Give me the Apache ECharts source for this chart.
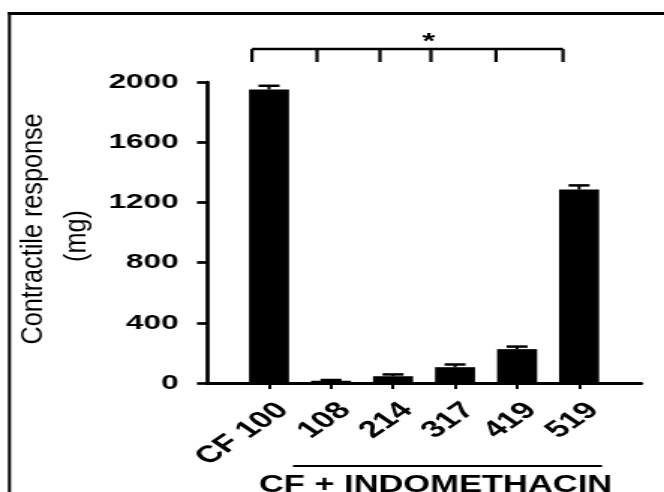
<!DOCTYPE html>
<html>
<head>
<meta charset="utf-8">
<script src="https://cdn.jsdelivr.net/npm/echarts@6/dist/echarts.min.js"></script>
<style>
  html, body { margin: 0; padding: 0; background: #fff; overflow: hidden; }
  /* The figure is laid out narrow and widened horizontally as a whole. */
  #chart { width: 443px; height: 492px; transform: scaleX(1.49887); transform-origin: 0 0; }
</style>
</head>
<body>
<div id="chart"></div>
<script>
// Contractile response per preparation (mg), mean and error
const categories = ['CF 100', '108', '214', '317', '419', '519'];
const responseMg = [1950, 15, 45, 105, 225, 1285];
const errorMg = [25, 5, 12, 18, 17, 28];
const yMin = 0, yMax = 2000, yStep = 400;
const yTitleLines = ['Contractile response', '(mg)'];
const groupLabel = 'CF + INDOMETHACIN';
const sigMark = '*';

const FONT = '"Liberation Sans", Arial, Helvetica, sans-serif';

// One empty slot either side keeps the outer bars away from the axis ends
const axisCats = [''].concat(categories, ['']);
const barData = responseMg.map((v, i) => [i + 1, v]);
const errData = responseMg.map((v, i) => [i + 1, v, errorMg[i]]);

const chart = echarts.init(document.getElementById('chart'), null, { renderer: 'canvas' });

// Bracket over the compared groups
const bracketY = 49, bracketDrop = 13;
const bracketXs = [168.1, 211.5, 253.5, 287.5, 330.9, 375.6];
const bracket = [{
  type: 'line', shape: { x1: bracketXs[0], y1: bracketY, x2: bracketXs[bracketXs.length - 1], y2: bracketY },
  style: { stroke: '#000', lineWidth: 2.4 }
}].concat(bracketXs.map(x => ({
  type: 'line', shape: { x1: x, y1: bracketY, x2: x, y2: bracketY + bracketDrop },
  style: { stroke: '#000', lineWidth: 2.2 }
})));

chart.setOption({
  backgroundColor: '#fff',
  animation: false,
  grid: { left: 138.1, right: 15.3, top: 82, bottom: 109, containLabel: false },
  xAxis: {
    type: 'category',
    data: axisCats,
    boundaryGap: false,
    axisLine: { show: true, lineStyle: { color: '#000', width: 3 } },
    axisTick: {
      show: true, length: 6, inside: false,
      interval: (idx, val) => val !== '',
      lineStyle: { color: '#000', width: 2 }
    },
    axisLabel: {
      interval: 0, rotate: 45, margin: 7,
      align: 'right', verticalAlign: 'top', lineHeight: 37, padding: [0, 5, 0, 0],
      color: '#000', fontFamily: FONT, fontWeight: 'bold', fontSize: 23.5
    },
    splitLine: { show: false }
  },
  yAxis: {
    type: 'value',
    min: yMin, max: yMax, interval: yStep,
    axisLine: { show: true, lineStyle: { color: '#000', width: 2.7 } },
    axisTick: { show: true, length: 6.7, lineStyle: { color: '#000', width: 2.7 } },
    axisLabel: {
      margin: 19, color: '#000', fontFamily: FONT, fontWeight: 'bold', fontSize: 21,
      formatter: v => String(v)
    },
    splitLine: { show: false }
  },
  series: [
    {
      type: 'bar',
      data: barData,
      barWidth: 26.7,
      itemStyle: { color: '#000' },
      z: 2
    },
    {
      type: 'custom',
      data: errData,
      z: 3,
      renderItem: function (params, api) {
        const base = api.coord([api.value(0), api.value(1)]);
        const top = api.coord([api.value(0), api.value(1) + api.value(2)]);
        const half = 7;
        return {
          type: 'group',
          children: [
            { type: 'line', shape: { x1: base[0], y1: base[1], x2: top[0], y2: top[1] },
              style: { stroke: '#000', lineWidth: 2 } },
            { type: 'line', shape: { x1: top[0] - half, y1: top[1], x2: top[0] + half, y2: top[1] },
              style: { stroke: '#000', lineWidth: 2.5 } }
          ]
        };
      }
    }
  ],
  graphic: [
    // frame edges
    { type: 'rect', shape: { x: 5.3, y: 12, width: 2, height: 480 }, style: { fill: '#000' } },
    { type: 'rect', shape: { x: 5.3, y: 12, width: 440, height: 3 }, style: { fill: '#000' } },
    // axis title, two lines reading upward
    { type: 'text', x: 22.5, y: 229, rotation: Math.PI / 2, scaleX: 1.2,
      style: { text: yTitleLines[0], fill: '#000', font: '21px ' + FONT, align: 'center', verticalAlign: 'middle' } },
    { type: 'text', x: 51, y: 236, rotation: Math.PI / 2, scaleX: 1.2,
      style: { text: yTitleLines[1], fill: '#000', font: '21px ' + FONT, align: 'center', verticalAlign: 'middle' } },
    // significance bracket
    { type: 'group', children: bracket },
    { type: 'text', x: 286, y: 42,
      style: { text: sigMark, fill: '#000', font: 'bold 22px ' + FONT, align: 'center', verticalAlign: 'middle' } },
    // treatment group label
    { type: 'line', shape: { x1: 195.5, y1: 466, x2: 401.6, y2: 466 }, style: { stroke: '#000', lineWidth: 2 } },
    { type: 'text', x: 290.5, y: 486,
      style: { text: groupLabel, fill: '#000', font: 'bold 23px ' + FONT, align: 'center', verticalAlign: 'middle' } }
  ]
});
</script>
</body>
</html>
